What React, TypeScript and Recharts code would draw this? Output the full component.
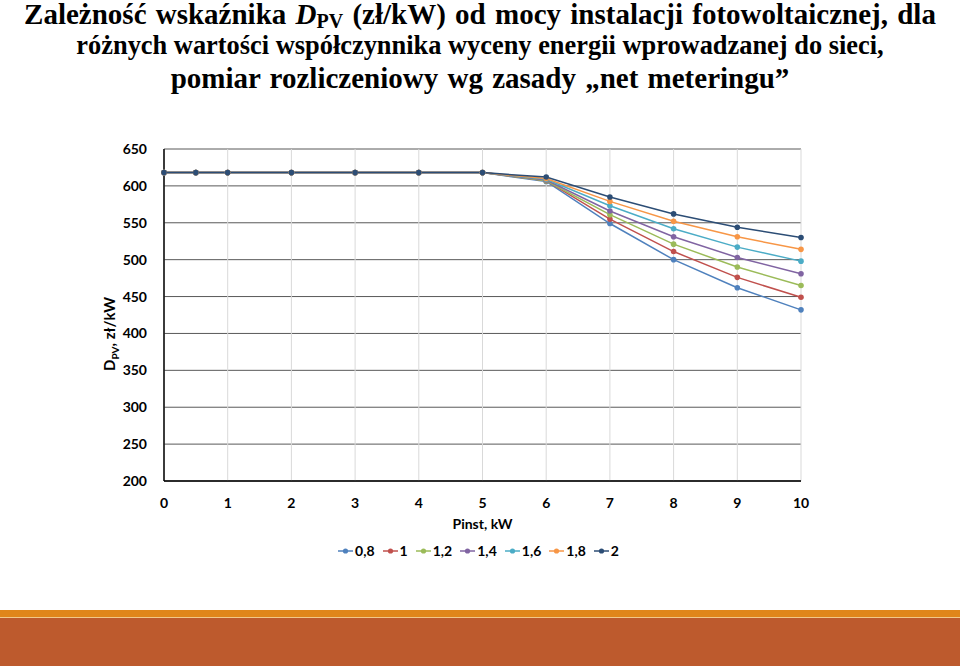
import React from 'react'
import { LineChart, Line, XAxis, YAxis, CartesianGrid } from 'recharts'

const xValues = [0, 0.5, 1, 2, 3, 4, 5, 6, 7, 8, 9, 10]
const s08 = [618, 618, 618, 618, 618, 618, 618, 606, 549, 500, 462, 432]
const s10 = [618, 618, 618, 618, 618, 618, 618, 607, 555, 511, 476, 449]
const s12 = [618, 618, 618, 618, 618, 618, 618, 607, 561, 521, 490, 465]
const s14 = [618, 618, 618, 618, 618, 618, 618, 608, 566, 531, 503, 481]
const s16 = [618, 618, 618, 618, 618, 618, 618, 609, 573, 542, 517, 498]
const s18 = [618, 618, 618, 618, 618, 618, 618, 610, 579, 552, 531, 514]
const s20 = [618, 618, 618, 618, 618, 618, 618, 612, 585, 562, 544, 530]

const seriesNames = ['0,8', '1', '1,2', '1,4', '1,6', '1,8', '2']
const seriesValues = [s08, s10, s12, s14, s16, s18, s20]
const COLORS = ['#4F81BD', '#C0504D', '#9BBB59', '#8064A2', '#4BACC6', '#F79646', '#2C4D75']

const xTicks = [0, 1, 2, 3, 4, 5, 6, 7, 8, 9, 10]
const yTicks = [200, 250, 300, 350, 400, 450, 500, 550, 600, 650]

const data = xValues.map((x, i) => {
  const row: any = { x }
  seriesValues.forEach((s, k) => {
    row['s' + k] = s[i]
  })
  return row
})

const FONT = 'Lato, "Open Sans", sans-serif'

function LegendBox() {
  return (
    <div
      style={{
        position: 'absolute',
        left: 164,
        width: 637,
        top: 542,
        display: 'flex',
        justifyContent: 'center',
        fontFamily: FONT,
        fontWeight: 700,
        fontSize: 14,
        lineHeight: '18px',
        color: '#000',
      }}
    >
      {seriesNames.map((n, i) => (
        <span key={n} style={{ display: 'inline-flex', alignItems: 'center', marginRight: 8 }}>
          <svg width={15} height={10}>
            <line x1={0} y1={5} x2={15} y2={5} stroke={COLORS[i]} strokeWidth={1.5} />
            <circle cx={7.5} cy={5} r={2.6} fill={COLORS[i]} />
          </svg>
          <span style={{ marginLeft: 2 }}>{n}</span>
        </span>
      ))}
    </div>
  )
}

const titleLine: React.CSSProperties = {
  position: 'absolute',
  left: 0,
  width: 960,
  textAlign: 'center',
  fontFamily: '"Liberation Serif", "Times New Roman", serif',
  fontWeight: 700,
  fontSize: 29,
  lineHeight: '32px',
  color: '#000',
  whiteSpace: 'nowrap',
}

export default function App() {
  return (
    <div style={{ position: 'absolute', top: 0, left: 0, width: 960, height: 666, background: '#fff', overflow: 'hidden' }}>
      <div style={{ ...titleLine, top: -2, wordSpacing: 2 }}>
        Zależność wskaźnika <i>D</i>
        <span style={{ fontSize: 20, position: 'relative', top: 4 }}>PV</span> (zł/kW) od mocy instalacji fotowoltaicznej, dla
      </div>
      <div style={{ ...titleLine, top: 29, fontSize: 26.4 }}>
        różnych wartości współczynnika wyceny energii wprowadzanej do sieci,
      </div>
      <div style={{ ...titleLine, top: 62, wordSpacing: 2 }}>
        pomiar rozliczeniowy wg zasady „net meteringu”
      </div>

      <div style={{ position: 'absolute', top: 0, left: 0 }}>
        <LineChart width={960} height={540} data={data} margin={{ top: 149, right: 159, bottom: 29, left: 124 }}>
          <CartesianGrid vertical={false} stroke="#595959" strokeWidth={1} />
          <CartesianGrid horizontal={false} stroke="#D9D9D9" strokeWidth={1} />
          <XAxis
            type="number"
            dataKey="x"
            domain={[0, 10]}
            ticks={xTicks}
            interval={0}
            stroke="#000"
            strokeWidth={1.5}
            tickLine={false}
            height={30}
            tick={{ fontFamily: FONT, fontWeight: 700, fontSize: 14, fill: '#000' }}
            tickMargin={11}
            label={{ value: 'Pinst, kW', position: 'insideBottom', offset: -18, style: { fontFamily: FONT, fontWeight: 700, fontSize: 14, fill: '#000' } }}
          />
          <YAxis
            type="number"
            domain={[200, 650]}
            ticks={yTicks}
            interval={0}
            width={40}
            stroke="#000"
            strokeWidth={1.5}
            tickLine={false}
            tickMargin={11}
            tick={{ fontFamily: FONT, fontWeight: 700, fontSize: 14, fill: '#000' }}
          />
          {seriesNames.map((n, i) => (
            <Line
              key={n}
              type="linear"
              dataKey={'s' + i}
              name={n}
              stroke={COLORS[i]}
              strokeWidth={1.5}
              dot={{ r: 2.8, fill: COLORS[i], stroke: COLORS[i], strokeWidth: 0 }}
              activeDot={false}
              isAnimationActive={false}
            />
          ))}
        </LineChart>
      </div>

      <LegendBox />

      <div
        style={{
          position: 'absolute',
          left: 110,
          top: 334,
          transform: 'translate(-50%, -50%) rotate(-90deg)',
          fontFamily: FONT,
          fontWeight: 700,
          fontSize: 15,
          whiteSpace: 'nowrap',
          color: '#000',
        }}
      >
        D<sub style={{ fontSize: 10 }}>PV</sub>, zł/kW
      </div>

      <div style={{ position: 'absolute', left: 0, top: 610, width: 960, height: 7, background: '#E0861A' }} />
      <div style={{ position: 'absolute', left: 0, top: 617, width: 960, height: 1, background: '#F2C98A' }} />
      <div style={{ position: 'absolute', left: 0, top: 618, width: 960, height: 48, background: '#BD5A2D' }} />
    </div>
  )
}
